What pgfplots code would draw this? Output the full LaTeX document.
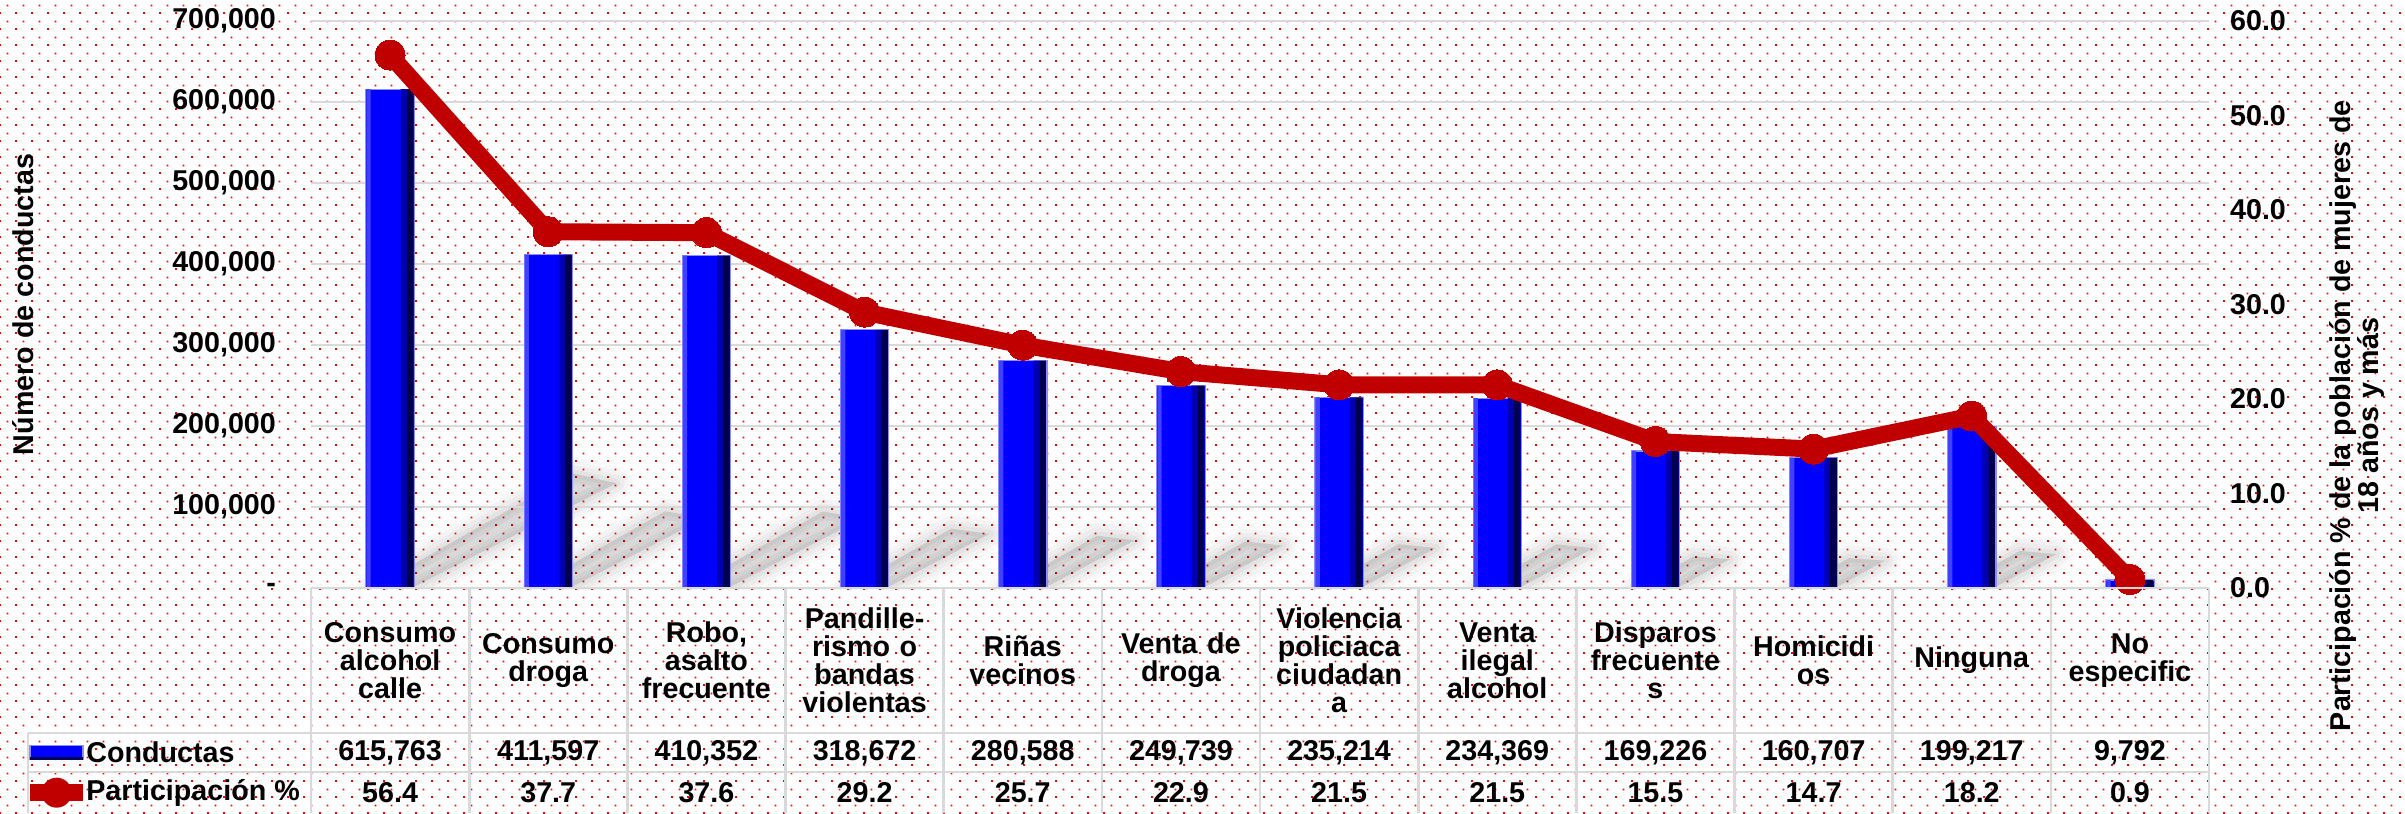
\documentclass[border=0pt]{standalone}
\usepackage{fontspec}
\setmainfont{Liberation Sans}
\usepackage{pgfplots}
\usepackage{pgfplotstable}
\pgfplotsset{compat=1.18}
\usetikzlibrary{patterns}
\pgfkeys{/pgf/number format/assume math mode=true}

\definecolor{linered}{RGB}{192,0,0}
\definecolor{barblue}{RGB}{0,0,255}
\definecolor{gridgray}{RGB}{217,217,217}

\pgfdeclarepatternformonly{reddots}{\pgfqpoint{0pt}{0pt}}{\pgfqpoint{4.8pt}{4.8pt}}{\pgfqpoint{4.8pt}{4.8pt}}{%
  \pgfpathrectangle{\pgfqpoint{0pt}{0pt}}{\pgfqpoint{0.62pt}{0.62pt}}%
  \pgfpathrectangle{\pgfqpoint{2.4pt}{2.4pt}}{\pgfqpoint{0.62pt}{0.62pt}}%
  \pgfusepath{fill}}

\newcommand{\ff}{\fontsize{8.6}{8.4}\selectfont\bfseries}

\pgfplotstableread{
x c p
0 615763 56.4
1 411597 37.7
2 410352 37.6
3 318672 29.2
4 280588 25.7
5 249739 22.9
6 235214 21.5
7 234369 21.5
8 169226 15.5
9 160707 14.7
10 199217 18.2
11 9792 0.9
}\datatable

\begin{document}
\begin{tikzpicture}
\useasboundingbox (-93.3pt,-67.5pt) rectangle (628.2pt,176.4pt);
\fill[white] (-93.3pt,-67.5pt) rectangle (628.2pt,176.4pt);
\fill[pattern=reddots, pattern color=red] (-93.3pt,-67.5pt) rectangle (628.2pt,176.4pt);

% soft perspective shadows of the bars
\begin{scope}
\clip (0,0) rectangle (569.4pt,170.1pt);
\pgfplotstableforeachcolumnelement{c}\of\datatable\as\cval{%
  \pgfkeys{/pgf/fpu=true,/pgf/fpu/output format=fixed}%
  \pgfmathparse{\cval*0.000243}\xdef\hp{\pgfmathresult}%
  \pgfkeys{/pgf/fpu=false}%
  \pgfmathsetmacro{\xc}{(\pgfplotstablerow+0.5)*47.45}%
  \foreach \w/\o in {10/0.018,7.5/0.024,5/0.03,2.5/0.035}{%
    \filldraw[black, opacity=\o, line width=\w pt, line join=round]
      (\xc pt-5.5pt,0) -- (\xc pt+6.5pt,0)
      -- (\xc pt+5pt+0.42*\hp pt, 0.21*\hp pt)
      -- (\xc pt-5pt+0.40*\hp pt, 0.23*\hp pt) -- cycle;
  }%
}
\end{scope}

\begin{axis}[
  at={(0,0)}, anchor=south west,
  width=569.4pt, height=170.1pt, scale only axis,
  xmin=-0.5, xmax=11.5, ymin=0, ymax=700000,
  clip=false,
  axis line style={draw=none},
  major tick length=0pt,
  ymajorgrids, grid style={gridgray, line width=0.7pt},
  ytick={0,100000,200000,300000,400000,500000,600000,700000},
  yticklabels={{-\hspace{5pt}},{100,000},{200,000},{300,000},{400,000},{500,000},{600,000},{700,000}},
  scaled y ticks=false,
  yticklabel style={font=\ff, xshift=-7pt},
  xtick={0,...,11},
  xticklabels={{Consumo\\alcohol\\calle},{Consumo\\droga},{Robo,\\asalto\\frecuente},{Pandille-\\rismo o\\bandas\\violentas},{Riñas\\vecinos},{Venta de\\droga},{Violencia\\policiaca\\ciudadan\\a},{Venta\\ilegal\\alcohol},{Disparos\\frecuente\\s},{Homicidi\\os},{Ninguna},{No\\especific}},
  xticklabel style={font=\ff, anchor=center, align=center, text width=47pt, yshift=-21.75pt},
  ylabel={Número de conductas},
  every axis y label/.style={at={(axis description cs:-0.1517,0.5)}, rotate=90, anchor=center, font=\ff},
]
\addplot[ybar, bar width=14.5pt, bar shift=0pt, fill=barblue, draw=blue!45!white, line width=0.35pt] table[x=x, y=c] {\datatable};
\addplot[ybar, bar width=1.3pt, bar shift=-6.45pt, fill=blue!75!white, draw=none] table[x=x, y=c] {\datatable};
\addplot[ybar, bar width=1.8pt, bar shift=4.1pt, fill=blue!70!black, draw=none] table[x=x, y=c] {\datatable};
\addplot[ybar, bar width=2.0pt, bar shift=5.95pt, fill=blue!30!black, draw=none] table[x=x, y=c] {\datatable};
\end{axis}

\begin{axis}[
  at={(0,0)}, anchor=south west,
  width=569.4pt, height=170.1pt, scale only axis,
  xmin=-0.5, xmax=11.5, ymin=0, ymax=60,
  clip=false,
  axis x line=none,
  axis y line*=right,
  axis line style={draw=none},
  major tick length=0pt,
  ytick={0,10,...,60},
  yticklabel={\pgfmathprintnumber[fixed,zerofill,precision=1]{\tick}},
  yticklabel style={font=\ff, xshift=2.8pt},
  ylabel={Participación \% de la población de mujeres de\\18 años y más},
  every axis y label/.style={at={(axis description cs:1.078,0.304)}, rotate=90, anchor=center, align=center, font=\ff},
]
\addplot[linered, line width=5.1pt, mark=*, mark size=4.5pt, mark options={fill=linered, draw=linered, line width=0pt}] table[x=x, y=p] {\datatable};
\addplot[draw=none, mark=none, point meta=explicit,
  nodes near coords={\pgfmathprintnumber[fixed,precision=0,1000 sep={,}]{\pgfplotspointmeta}},
  nodes near coords align={center},
  every node near coord/.append style={anchor=center, yshift=-49.4pt, font=\ff, inner sep=0pt}]
  table[x=x, y expr=0, meta=c] {\datatable};
\addplot[draw=none, mark=none, point meta=explicit,
  nodes near coords={\pgfmathprintnumber[fixed,zerofill,precision=1]{\pgfplotspointmeta}},
  nodes near coords align={center},
  every node near coord/.append style={anchor=center, yshift=-61.4pt, font=\ff, inner sep=0pt}]
  table[x=x, y expr=0, meta=p] {\datatable};
\end{axis}

% table grid
\begin{scope}[gridgray, line width=0.8pt]
\draw (0,0) -- (569.4pt,0);
\foreach \k in {0,...,12} { \draw (\k*47.45pt,0) -- (\k*47.45pt,-67.5pt); }
\draw (-84.9pt,-43.5pt) -- (569.4pt,-43.5pt);
\draw (-84.9pt,-55.2pt) -- (569.4pt,-55.2pt);
\draw (-84.9pt,-43.5pt) -- (-84.9pt,-67.5pt);
\end{scope}
% legend keys
\fill[barblue, draw=blue!45!white, line width=0.35pt] (-84.3pt,-51.5pt) rectangle (-68.4pt,-47.3pt);
\fill[blue!35!black] (-84.3pt,-51.5pt) rectangle (-68.4pt,-50.6pt);
\node[anchor=west, font=\ff, inner sep=0pt] at (-67.6pt,-49.4pt) {Conductas};
\draw[linered, line width=5.1pt] (-84.3pt,-61.4pt) -- (-68.4pt,-61.4pt);
\fill[linered] (-76.3pt,-61.4pt) circle (4.5pt);
\node[anchor=west, font=\ff, inner sep=0pt] at (-67.6pt,-61.4pt) {Participación \%};
\end{tikzpicture}
\end{document}
